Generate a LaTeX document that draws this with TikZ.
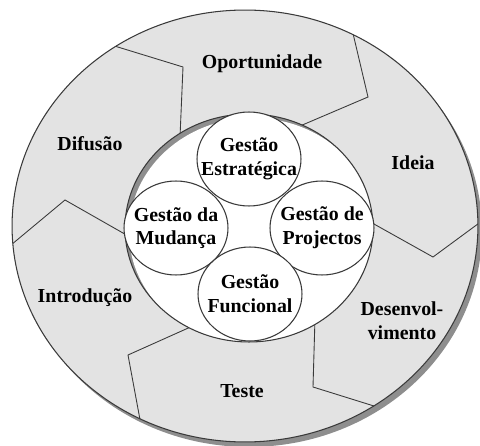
\documentclass[tikz,border=0pt]{standalone}
\usepackage{fontspec}
\setmainfont{Liberation Serif}
\usepackage{xcolor}
\usetikzlibrary{shapes.geometric}

\definecolor{ringgray}{HTML}{E3E3E3}
\definecolor{shadowgray}{HTML}{8E8E8E}
\definecolor{edgegray}{HTML}{3A3A3A}

\begin{document}
\begin{tikzpicture}[
    x=0.02cm, y=-0.02cm,
    ring/.style={fill=ringgray, draw=edgegray, line width=0.6pt},
    seam/.style={draw=edgegray, line width=0.5pt},
    gcircle/.style={ellipse, draw=edgegray, fill=white, line width=0.6pt,
      minimum width=2.08cm, minimum height=1.88cm, inner sep=0pt},
    phase/.style={font=\fontsize{11.3}{13.5}\selectfont\bfseries, align=center, inner sep=0pt}
  ]
    \useasboundingbox (0,0) rectangle (480,446);

    % Outer ring with its drop shadow
    \fill[shadowgray] (249,231) ellipse [x radius=4.66cm, y radius=4.32cm];
    \draw[ring] (245,226) ellipse [x radius=4.66cm, y radius=4.32cm];

    % Seams between the six phases
    \begin{scope}
      \clip (245,226) ellipse [x radius=4.66cm, y radius=4.32cm];
      \draw[seam] (351,25) -- (368,97) -- (300,126);
      \draw[seam] (486,218) -- (433,257) -- (365,219);
      \draw[seam] (315,318) -- (313,387) -- (390,411);
      \draw[seam] (195,325) -- (128,355) -- (141,425);
      \draw[seam] (130,237) -- (65,200) -- (5,250);
      \draw[seam] (108,44) -- (183,67) -- (180,137);
    \end{scope}

    % Inner hole with the shadow falling into it
    \fill[shadowgray] (249,228) ellipse [x radius=2.48cm, y radius=2.28cm];
    \begin{scope}
      \clip (249,228) ellipse [x radius=2.48cm, y radius=2.28cm];
      \fill[white] (253,232) ellipse [x radius=2.48cm, y radius=2.28cm];
    \end{scope}
    \draw[edgegray, line width=0.6pt] (249,228) ellipse [x radius=2.48cm, y radius=2.28cm];

    % Management circles
    \node[gcircle] (estr) at (249,159) {};
    \node[gcircle] (mud)  at (176,228) {};
    \node[gcircle] (proj) at (322,228) {};
    \node[gcircle] (func) at (250,294) {};

    \node[phase] (estrtxt) at (estr) {Gestão\\Estratégica};
    \node[phase] (mudtxt)  at (mud)  {Gestão da\\Mudança};
    \node[phase] (projtxt) at (proj) {Gestão de\\Projectos};
    \node[phase] (functxt) at (func) {Gestão\\Funcional};

    % Phase labels
    \node[phase] (opor) at (262,64)  {Oportunidade};
    \node[phase] (ideia) at (413,163) {Ideia};
    \node[phase] (desen) at (402,321) {Desenvol-\\vimento};
    \node[phase] (teste) at (242,391) {Teste};
    \node[phase] (intro) at (85,298)  {Introdução};
    \node[phase] (difus) at (90,144)  {Difusão};
  \end{tikzpicture}
\end{document}
